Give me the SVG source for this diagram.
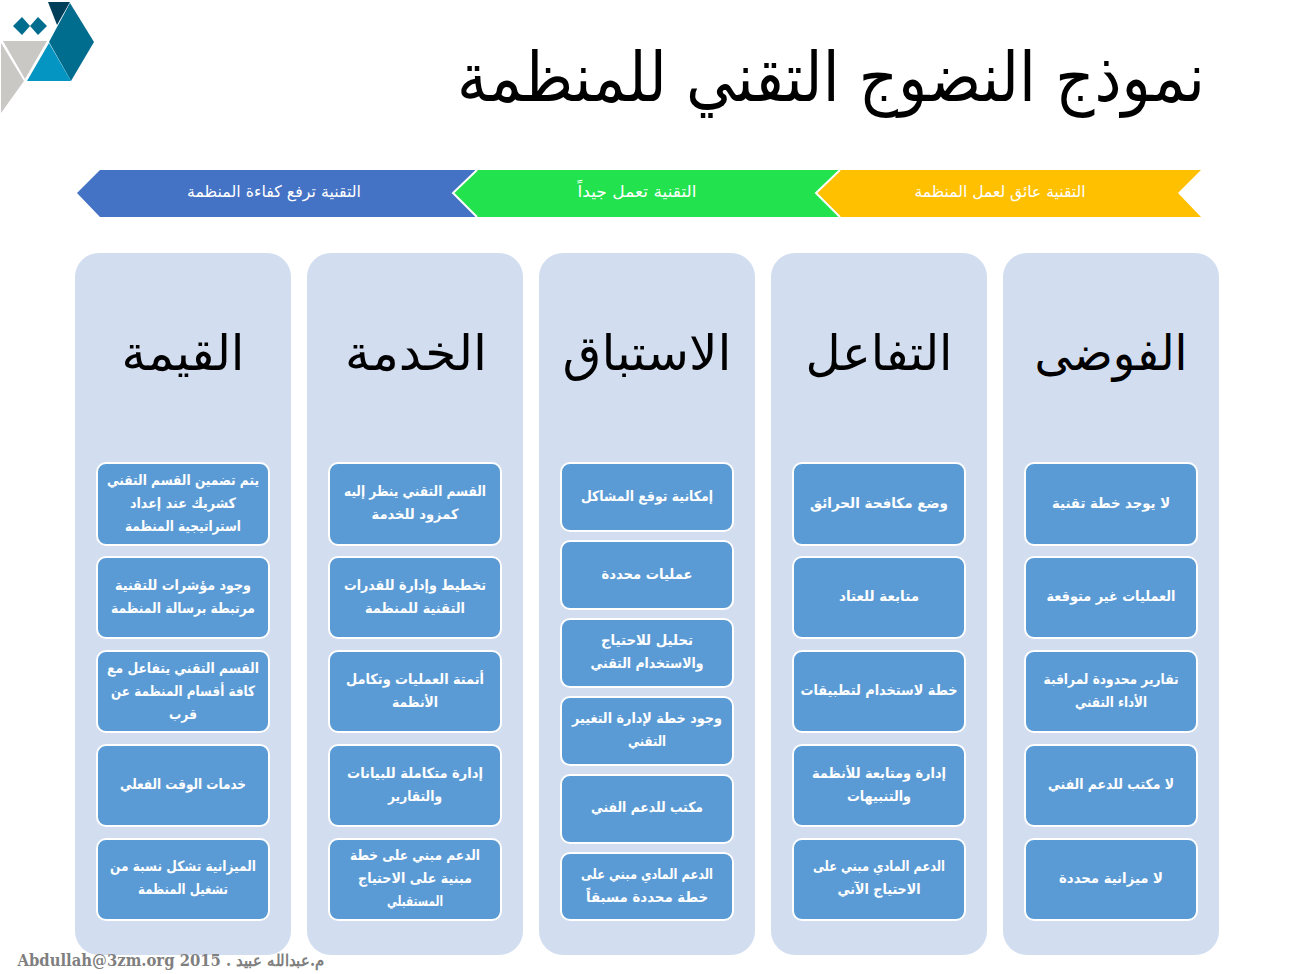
<svg xmlns="http://www.w3.org/2000/svg" width="1305" height="974" viewBox="0 0 1305 974">
<style>
text{font-family:"DejaVu Sans",sans-serif;direction:rtl;text-anchor:middle;}
.col{fill:#d2ddef}
.box{fill:#5b9bd5;stroke:#fff;stroke-width:2}
.t{fill:#fff;font-size:14px;font-weight:bold}
.h{fill:#000;font-size:49px}
.c{fill:#fff;font-size:16px}
.ch{fill:none;stroke:#fff;stroke-width:2}
</style>
<g id="logo">
<polygon points="48,2 70,2 57,25" fill="#003f5a"/>
<polygon points="13,26 22,17 30,26 22,35" fill="#006c8e"/>
<polygon points="30,26 38,17 47,26 38,35" fill="#006c8e"/>
<polygon points="49,42 70,3 94,42 71,81" fill="#006c8e"/>
<polygon points="27,81 49,43 71,81" fill="#0595c2"/>
<polygon points="3,41 47,41 25,79" fill="#cac8c5"/>
<polygon points="1,43 24,81 1,113" fill="#cac8c5"/>
</g>
<text id="title" x="831" y="101" font-size="68" fill="#000" textLength="748" lengthAdjust="spacingAndGlyphs">نموذج النضوج التقني للمنظمة</text>
<g id="band-1"><polygon points="839,170 1201,170 1178,193 1201,217 839,217 816,193" fill="#ffc000"/><text class="c" x="1000" y="197" textLength="171" lengthAdjust="spacingAndGlyphs">التقنية عائق لعمل المنظمة</text></g>
<g id="band-2"><polygon points="476,170 839,170 816,193 839,217 476,217 453,193" fill="#22e34d"/><text class="c" x="637" y="197" textLength="119" lengthAdjust="spacingAndGlyphs">التقنية تعمل جيداً</text></g>
<g id="band-3"><polygon points="100,170 476,170 453,193 476,217 100,217 77,193" fill="#4472c4"/><text class="c" x="274" y="197" textLength="174" lengthAdjust="spacingAndGlyphs">التقنية ترفع كفاءة المنظمة</text></g>
<polyline class="ch" points="477,170 453,193 477,217"/>
<polyline class="ch" points="840,170 816,193 840,217"/>
<g id="col-1"><rect class="col" x="1003" y="253" width="216" height="702" rx="24"/><text class="h" x="1111" y="370" textLength="153" lengthAdjust="spacingAndGlyphs">الفوضى</text>
<g id="n1-1"><rect class="box" x="1025" y="463" width="172" height="82" rx="9"/><text class="t" x="1111" y="508" textLength="118" lengthAdjust="spacingAndGlyphs">لا يوجد خطة تقنية</text></g>
<g id="n1-2"><rect class="box" x="1025" y="557" width="172" height="81" rx="9"/><text class="t" x="1111" y="601" textLength="129" lengthAdjust="spacingAndGlyphs">العمليات غير متوقعة</text></g>
<g id="n1-3"><rect class="box" x="1025" y="651" width="172" height="81" rx="9"/><text class="t" x="1111" y="684" textLength="135" lengthAdjust="spacingAndGlyphs">تقارير محدودة لمراقبة</text><text class="t" x="1111" y="707" textLength="72" lengthAdjust="spacingAndGlyphs">الأداء التقني</text></g>
<g id="n1-4"><rect class="box" x="1025" y="745" width="172" height="81" rx="9"/><text class="t" x="1111" y="789" textLength="126" lengthAdjust="spacingAndGlyphs">لا مكتب للدعم الفني</text></g>
<g id="n1-5"><rect class="box" x="1025" y="839" width="172" height="81" rx="9"/><text class="t" x="1111" y="883" textLength="104" lengthAdjust="spacingAndGlyphs">لا ميزانية محددة</text></g></g>
<g id="col-2"><rect class="col" x="771" y="253" width="216" height="702" rx="24"/><text class="h" x="879" y="370" textLength="147" lengthAdjust="spacingAndGlyphs">التفاعل</text>
<g id="n2-1"><rect class="box" x="793" y="463" width="172" height="82" rx="9"/><text class="t" x="879" y="508" textLength="138" lengthAdjust="spacingAndGlyphs">وضع مكافحة الحرائق</text></g>
<g id="n2-2"><rect class="box" x="793" y="557" width="172" height="81" rx="9"/><text class="t" x="879" y="601" textLength="80" lengthAdjust="spacingAndGlyphs">متابعة للعتاد</text></g>
<g id="n2-3"><rect class="box" x="793" y="651" width="172" height="81" rx="9"/><text class="t" x="879" y="695" textLength="157" lengthAdjust="spacingAndGlyphs">خطة لاستخدام لتطبيقات</text></g>
<g id="n2-4"><rect class="box" x="793" y="745" width="172" height="81" rx="9"/><text class="t" x="879" y="778" textLength="134" lengthAdjust="spacingAndGlyphs">إدارة ومتابعة للأنظمة</text><text class="t" x="879" y="801" textLength="64" lengthAdjust="spacingAndGlyphs">والتنبيهات</text></g>
<g id="n2-5"><rect class="box" x="793" y="839" width="172" height="81" rx="9"/><text class="t" x="879" y="871" textLength="132" lengthAdjust="spacingAndGlyphs">الدعم المادي مبني على</text><text class="t" x="879" y="894" textLength="83" lengthAdjust="spacingAndGlyphs">الاحتياج الآني</text></g></g>
<g id="col-3"><rect class="col" x="539" y="253" width="216" height="702" rx="24"/><text class="h" x="647" y="370" textLength="169" lengthAdjust="spacingAndGlyphs">الاستباق</text>
<g id="n3-1"><rect class="box" x="561" y="463" width="172" height="68" rx="9"/><text class="t" x="647" y="501" textLength="132" lengthAdjust="spacingAndGlyphs">إمكانية توقع المشاكل</text></g>
<g id="n3-2"><rect class="box" x="561" y="541" width="172" height="68" rx="9"/><text class="t" x="647" y="579" textLength="91" lengthAdjust="spacingAndGlyphs">عمليات محددة</text></g>
<g id="n3-3"><rect class="box" x="561" y="619" width="172" height="68" rx="9"/><text class="t" x="647" y="645" textLength="92" lengthAdjust="spacingAndGlyphs">تحليل للاحتياج</text><text class="t" x="647" y="668" textLength="113" lengthAdjust="spacingAndGlyphs">والاستخدام التقني</text></g>
<g id="n3-4"><rect class="box" x="561" y="697" width="172" height="68" rx="9"/><text class="t" x="647" y="723" textLength="150" lengthAdjust="spacingAndGlyphs">وجود خطة لإدارة التغيير</text><text class="t" x="647" y="746" textLength="38" lengthAdjust="spacingAndGlyphs">التقني</text></g>
<g id="n3-5"><rect class="box" x="561" y="775" width="172" height="68" rx="9"/><text class="t" x="647" y="812" textLength="112" lengthAdjust="spacingAndGlyphs">مكتب للدعم الفني</text></g>
<g id="n3-6"><rect class="box" x="561" y="853" width="172" height="67" rx="9"/><text class="t" x="647" y="879" textLength="132" lengthAdjust="spacingAndGlyphs">الدعم المادي مبني على</text><text class="t" x="647" y="902" textLength="122" lengthAdjust="spacingAndGlyphs">خطة محددة مسبقاً</text></g></g>
<g id="col-4"><rect class="col" x="307" y="253" width="216" height="702" rx="24"/><text class="h" x="416" y="370" textLength="142" lengthAdjust="spacingAndGlyphs">الخدمة</text>
<g id="n4-1"><rect class="box" x="329" y="463" width="172" height="82" rx="9"/><text class="t" x="415" y="496" textLength="142" lengthAdjust="spacingAndGlyphs">القسم التقني ينظر إليه</text><text class="t" x="415" y="519" textLength="87" lengthAdjust="spacingAndGlyphs">كمزود للخدمة</text></g>
<g id="n4-2"><rect class="box" x="329" y="557" width="172" height="81" rx="9"/><text class="t" x="415" y="590" textLength="142" lengthAdjust="spacingAndGlyphs">تخطيط وإدارة للقدرات</text><text class="t" x="415" y="613" textLength="100" lengthAdjust="spacingAndGlyphs">التقنية للمنظمة</text></g>
<g id="n4-3"><rect class="box" x="329" y="651" width="172" height="81" rx="9"/><text class="t" x="415" y="684" textLength="138" lengthAdjust="spacingAndGlyphs">أتمتة العمليات وتكامل</text><text class="t" x="415" y="707" textLength="46" lengthAdjust="spacingAndGlyphs">الأنظمة</text></g>
<g id="n4-4"><rect class="box" x="329" y="745" width="172" height="81" rx="9"/><text class="t" x="415" y="778" textLength="136" lengthAdjust="spacingAndGlyphs">إدارة متكاملة للبيانات</text><text class="t" x="415" y="801" textLength="54" lengthAdjust="spacingAndGlyphs">والتقارير</text></g>
<g id="n4-5"><rect class="box" x="329" y="839" width="172" height="81" rx="9"/><text class="t" x="415" y="860" textLength="130" lengthAdjust="spacingAndGlyphs">الدعم مبني على خطة</text><text class="t" x="415" y="883" textLength="114" lengthAdjust="spacingAndGlyphs">مبنية على الاحتياج</text><text class="t" x="415" y="906" textLength="56" lengthAdjust="spacingAndGlyphs">المستقبلي</text></g></g>
<g id="col-5"><rect class="col" x="75" y="253" width="216" height="702" rx="24"/><text class="h" x="183" y="370" textLength="123" lengthAdjust="spacingAndGlyphs">القيمة</text>
<g id="n5-1"><rect class="box" x="97" y="463" width="172" height="82" rx="9"/><text class="t" x="183" y="485" textLength="152" lengthAdjust="spacingAndGlyphs">يتم تضمين القسم التقني</text><text class="t" x="183" y="508" textLength="106" lengthAdjust="spacingAndGlyphs">كشريك عند إعداد</text><text class="t" x="183" y="531" textLength="116" lengthAdjust="spacingAndGlyphs">استراتيجية المنظمة</text></g>
<g id="n5-2"><rect class="box" x="97" y="557" width="172" height="81" rx="9"/><text class="t" x="183" y="590" textLength="136" lengthAdjust="spacingAndGlyphs">وجود مؤشرات للتقنية</text><text class="t" x="183" y="613" textLength="144" lengthAdjust="spacingAndGlyphs">مرتبطة برسالة المنظمة</text></g>
<g id="n5-3"><rect class="box" x="97" y="651" width="172" height="81" rx="9"/><text class="t" x="183" y="673" textLength="152" lengthAdjust="spacingAndGlyphs">القسم التقني يتفاعل مع</text><text class="t" x="183" y="696" textLength="144" lengthAdjust="spacingAndGlyphs">كافة أقسام المنظمة عن</text><text class="t" x="183" y="719" textLength="28" lengthAdjust="spacingAndGlyphs">قرب</text></g>
<g id="n5-4"><rect class="box" x="97" y="745" width="172" height="81" rx="9"/><text class="t" x="183" y="789" textLength="126" lengthAdjust="spacingAndGlyphs">خدمات الوقت الفعلي</text></g>
<g id="n5-5"><rect class="box" x="97" y="839" width="172" height="81" rx="9"/><text class="t" x="183" y="871" textLength="146" lengthAdjust="spacingAndGlyphs">الميزانية تشكل نسبة من</text><text class="t" x="183" y="894" textLength="90" lengthAdjust="spacingAndGlyphs">تشغيل المنظمة</text></g></g>
<text id="credit" x="171" y="966" font-size="16" font-weight="bold" fill="#7f7f7f" textLength="307" lengthAdjust="spacingAndGlyphs" style="font-family:'DejaVu Serif',serif">م.عبدالله عبيد . Abdullah@3zm.org 2015</text>
<g id="connectors"/>
</svg>
